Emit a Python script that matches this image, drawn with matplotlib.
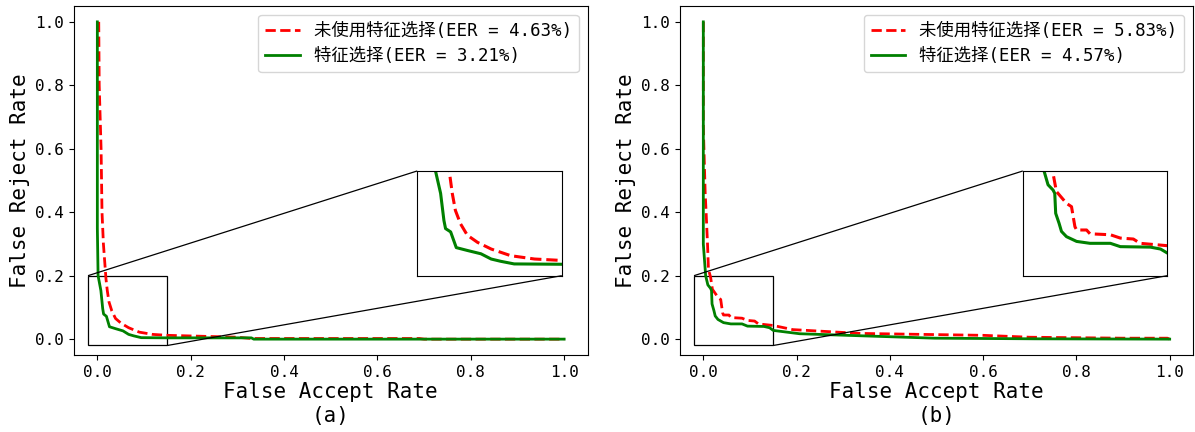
import numpy as np
import matplotlib
matplotlib.use('Agg')
import matplotlib.pyplot as plt
from mpl_toolkits.axes_grid1.inset_locator import mark_inset

plt.rcParams['font.family'] = ['DejaVu Sans Mono', 'Noto Sans CJK SC']

# (a) FAR / FRR curves
far_a_nofs = [0.003, 0.004, 0.008, 0.010, 0.013, 0.0185, 0.0213, 0.025, 0.031, 0.039, 0.051, 0.067,
              0.090, 0.118, 0.15, 0.20, 0.25, 0.30, 0.33, 0.50, 0.69, 0.70, 1.0]
frr_a_nofs = [1.0, 0.8, 0.6, 0.4, 0.3, 0.19, 0.153, 0.117, 0.089, 0.065, 0.05, 0.036,
              0.022, 0.015, 0.012, 0.01, 0.008, 0.006, 0.002, 0.002, 0.002, 0.0, 0.0]
far_a_fs = [0.0, 0.0, 0.0016, 0.0076, 0.0115, 0.0134, 0.0194, 0.023, 0.026, 0.039, 0.055, 0.067,
            0.078, 0.094, 0.15, 0.33, 0.335, 1.0]
frr_a_fs = [1.0, 0.35, 0.2, 0.153, 0.096, 0.079, 0.072, 0.054, 0.039, 0.033, 0.026, 0.015,
            0.0103, 0.0047, 0.004, 0.004, 0.0, 0.0]

# (b) FAR / FRR curves
far_b_nofs = [0.0, 0.0, 0.004, 0.006, 0.009, 0.011, 0.0156, 0.0195, 0.0314, 0.0373, 0.0413, 0.0433,
              0.055, 0.059, 0.083, 0.0947, 0.110, 0.118, 0.15, 0.192, 0.337, 0.467, 0.6, 0.7,
              0.9, 0.995, 1.0]
frr_b_nofs = [1.0, 0.67, 0.46, 0.40, 0.30, 0.22, 0.195, 0.157, 0.132, 0.125, 0.083, 0.076,
              0.076, 0.068, 0.066, 0.059, 0.057, 0.048, 0.043, 0.03, 0.018, 0.015, 0.012, 0.006,
              0.003, 0.003, 0.0]
far_b_fs = [0.0, 0.0, 0.005, 0.0097, 0.0156, 0.0176, 0.0187, 0.0227, 0.0255, 0.0314, 0.0433, 0.059,
            0.083, 0.0947, 0.130, 0.142, 0.15, 0.2065, 0.337, 0.496, 0.71, 1.0]
frr_b_fs = [1.0, 0.30, 0.2, 0.171, 0.160, 0.153, 0.111, 0.090, 0.073, 0.062, 0.052, 0.048,
            0.048, 0.041, 0.040, 0.036, 0.0275, 0.017, 0.0106, 0.003, 0.001, 0.0]

labels_a = ['未使用特征选择(EER = 4.63%)', '特征选择(EER = 3.21%)']
labels_b = ['未使用特征选择(EER = 5.83%)', '特征选择(EER = 4.57%)']
panels = ['(a)', '(b)']

fig = plt.figure(figsize=(11.95, 4.32), dpi=100)
ax1 = fig.add_axes([74 / 1195, 77 / 432, 513.5 / 1195, 349 / 432])
ax2 = fig.add_axes([680 / 1195, 77 / 432, 513 / 1195, 349 / 432])

datasets = [
    (ax1, far_a_nofs, frr_a_nofs, far_a_fs, frr_a_fs, labels_a, panels[0]),
    (ax2, far_b_nofs, frr_b_nofs, far_b_fs, frr_b_fs, labels_b, panels[1]),
]

for ax, fx1, fy1, fx2, fy2, labs, tag in datasets:
    ax.plot(fx1, fy1, color='red', linestyle='--', linewidth=2, label=labs[0])
    ax.plot(fx2, fy2, color='green', linewidth=2, label=labs[1])
    ax.set_xlim(-0.05, 1.05)
    ax.set_ylim(-0.05, 1.05)
    ax.set_xticks([0.0, 0.2, 0.4, 0.6, 0.8, 1.0])
    ax.set_yticks([0.0, 0.2, 0.4, 0.6, 0.8, 1.0])
    ax.tick_params(labelsize=11.5)
    ax.set_xlabel('False Accept Rate\n' + tag, fontsize=15, labelpad=2)
    ax.set_ylabel('False Reject Rate', fontsize=15)
    ax.legend(loc='upper right', fontsize=12.5, labelspacing=0.45)

    # zoomed inset
    axins = ax.inset_axes([0.685, 0.2, 0.31, 0.33], transform=ax.transData)
    axins.plot(fx1, fy1, color='red', linestyle='--', linewidth=2.2)
    axins.plot(fx2, fy2, color='green', linewidth=2.2)
    axins.set_xlim(-0.02, 0.15)
    axins.set_ylim(-0.02, 0.2)
    axins.set_xticks([])
    axins.set_yticks([])
    mark_inset(ax, axins, loc1=2, loc2=4, fc='none', ec='black', lw=0.9)

plt.savefig('out.png', dpi=100)
